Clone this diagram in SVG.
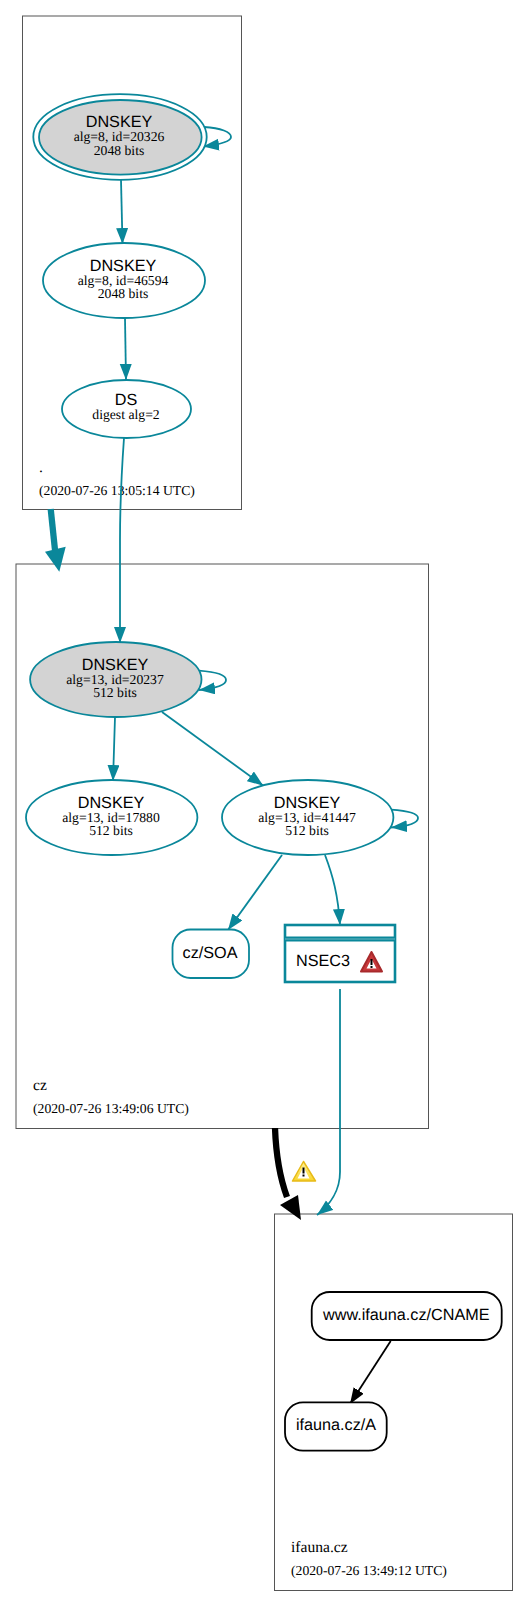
<svg xmlns="http://www.w3.org/2000/svg" width="528" height="1606" viewBox="0 0 528 1606">
<defs>
<marker id="a" markerUnits="userSpaceOnUse" markerWidth="17" markerHeight="13" refX="16" refY="6" orient="auto"><path d="M0,0L16,6L0,12Z" fill="#0a879a" stroke="none"/></marker>
<marker id="b" markerUnits="userSpaceOnUse" markerWidth="17" markerHeight="13" refX="16" refY="6" orient="auto"><path d="M0,0L16,6L0,12Z" fill="#000" stroke="none"/></marker>
<linearGradient id="y" x1="0" y1="0" x2="0" y2="1"><stop offset="0" stop-color="#fff2a0"/><stop offset="1" stop-color="#f8d52a"/></linearGradient>
</defs>
<style>
.z{fill:#fff;stroke:#555;stroke-width:1}
.e{fill:#fff;stroke:#0a879a;stroke-width:1.800}
.g{fill:#d3d3d3}
.c{fill:none;stroke:#0a879a;stroke-width:1.800;marker-end:url(#a)}
text{fill:#000;text-rendering:geometricPrecision}
.h{font:16.200px "Liberation Sans",Arial,sans-serif;text-anchor:middle}
.s{font:13.700px "Liberation Serif","Times New Roman",serif;text-anchor:middle}
.l{font:13.700px "Liberation Serif","Times New Roman",serif}
.n{font:15.600px "Liberation Serif","Times New Roman",serif}
.r{font:16.200px "Liberation Sans",Arial,sans-serif}
</style>
<rect width="528" height="1606" fill="#fff"/>
<g id="zone-root"><rect class="z" x="22.500" y="16" width="219" height="493.500"/><text class="n" x="39" y="472">.</text><text class="l" x="39" y="495">(2020-07-26 13:05:14 UTC)</text></g>
<g id="zone-cz"><rect class="z" x="16" y="564" width="412.500" height="564.500"/><text class="n" x="33" y="1090">cz</text><text class="l" x="33" y="1113">(2020-07-26 13:49:06 UTC)</text></g>
<g id="zone-ifauna"><rect class="z" x="274.500" y="1214" width="238" height="376.500"/><text class="n" x="291" y="1552">ifauna.cz</text><text class="l" x="291" y="1575">(2020-07-26 13:49:12 UTC)</text></g>
<g id="connectors">
<path class="c" d="M204,127C221,128 231,132 231,137C231,141 224,144 203,146.500"/>
<path class="c" d="M121,180L122.500,244"/>
<path class="c" d="M125,318L126,380"/>
<path class="c" d="M124,438C121,480 120,510 120,540V643"/>
<path class="c" d="M199,670.700C216,672 226,675 226,680C226,685 218,688 199,690"/>
<path class="c" d="M115,717L113,781"/>
<path class="c" d="M162,712L263.300,785.700"/>
<path class="c" d="M391,809.700C408,811 418,814 418,818C418,823 410,826 391,827.500"/>
<path class="c" d="M282,855L228,930"/>
<path class="c" d="M325,855C333,876 338,895 340,925"/>
<path class="c" d="M340,989V1172C340,1190 330,1205 317,1215"/>
<path d="M50.700,509L55,550" fill="none" stroke="#0a879a" stroke-width="6.300"/>
<path d="M45,551.700L65.700,546.700L59.300,571.700Z" fill="#0a879a"/>
<path d="M275,1128C276,1155 280,1178 287,1197" fill="none" stroke="#000" stroke-width="6.300"/>
<path d="M280,1205L298,1195L301,1220Z" fill="#000"/>
<path d="M390.700,1341L350,1404" fill="none" stroke="#000" stroke-width="1.800" marker-end="url(#b)"/>
</g>
<g id="warn"><path d="M303.500,1161.500L292.500,1181H315.500Z" fill="url(#y)" stroke="#e8bb18" stroke-linejoin="round" stroke-width="1.500"/><path d="M303.500,1167L297.500,1178.500H309.500Z" fill="#fff"/><rect x="302.500" y="1167.500" width="2" height="6" fill="#000"/><rect x="302.500" y="1174.500" width="2" height="2" fill="#000"/></g>
<g id="n1"><ellipse class="e" cx="120" cy="137" rx="86.700" ry="42.800"/><ellipse class="e g" cx="120.300" cy="137.300" rx="81.300" ry="37.300"/><text class="h" x="119" y="127">DNSKEY</text><text class="s" x="119" y="141">alg=8, id=20326</text><text class="s" x="119" y="155">2048 bits</text></g>
<g id="n2"><ellipse class="e" cx="124" cy="280.500" rx="81" ry="37.500"/><text class="h" x="123" y="271">DNSKEY</text><text class="s" x="123" y="285">alg=8, id=46594</text><text class="s" x="123" y="298">2048 bits</text></g>
<g id="n3"><ellipse class="e" cx="126.500" cy="409" rx="64.500" ry="29"/><text class="h" x="126" y="405">DS</text><text class="s" x="126" y="419">digest alg=2</text></g>
<g id="n4"><ellipse class="e g" cx="115.800" cy="679.500" rx="85.700" ry="37.500"/><text class="h" x="115" y="670">DNSKEY</text><text class="s" x="115" y="684">alg=13, id=20237</text><text class="s" x="115" y="697">512 bits</text></g>
<g id="n5"><ellipse class="e" cx="111.700" cy="817.500" rx="85.700" ry="37.500"/><text class="h" x="111" y="808">DNSKEY</text><text class="s" x="111" y="822">alg=13, id=17880</text><text class="s" x="111" y="835">512 bits</text></g>
<g id="n6"><ellipse class="e" cx="307.700" cy="817.500" rx="85.700" ry="37.500"/><text class="h" x="307" y="808">DNSKEY</text><text class="s" x="307" y="822">alg=13, id=41447</text><text class="s" x="307" y="835">512 bits</text></g>
<g id="n7"><rect class="e" x="172.500" y="929.500" width="76.500" height="48.500" rx="18"/><text class="h" x="210" y="958">cz/SOA</text></g>
<g id="n8"><rect class="e" x="285" y="925" width="110" height="57" style="stroke-width:2.600"/><path d="M285,939H395" stroke="#0a879a" stroke-width="5" fill="none"/><path d="M285,939H395" stroke="#fff" stroke-width="1" fill="none" opacity=".4"/><text class="r" x="296" y="966">NSEC3</text><path d="M371.500,952L361,971.500H382Z" fill="#c8383a" stroke="#a82a2c" stroke-width="2" stroke-linejoin="round"/><path d="M371.500,959L366.500,968.500H376.500Z" fill="#fff"/><rect x="370.500" y="959" width="2" height="6" fill="#000"/><rect x="370.500" y="966" width="2" height="2" fill="#000"/></g>
<g id="n9"><rect x="311.700" y="1292" width="190" height="48" rx="18" fill="#fff" stroke="#000" stroke-width="1.800"/><text class="h" x="406.300" y="1320">www.ifauna.cz/CNAME</text></g>
<g id="n10"><rect x="285" y="1402.300" width="101.700" height="48.400" rx="18" fill="#fff" stroke="#000" stroke-width="1.800"/><text class="h" x="336" y="1430">ifauna.cz/A</text></g>
</svg>
